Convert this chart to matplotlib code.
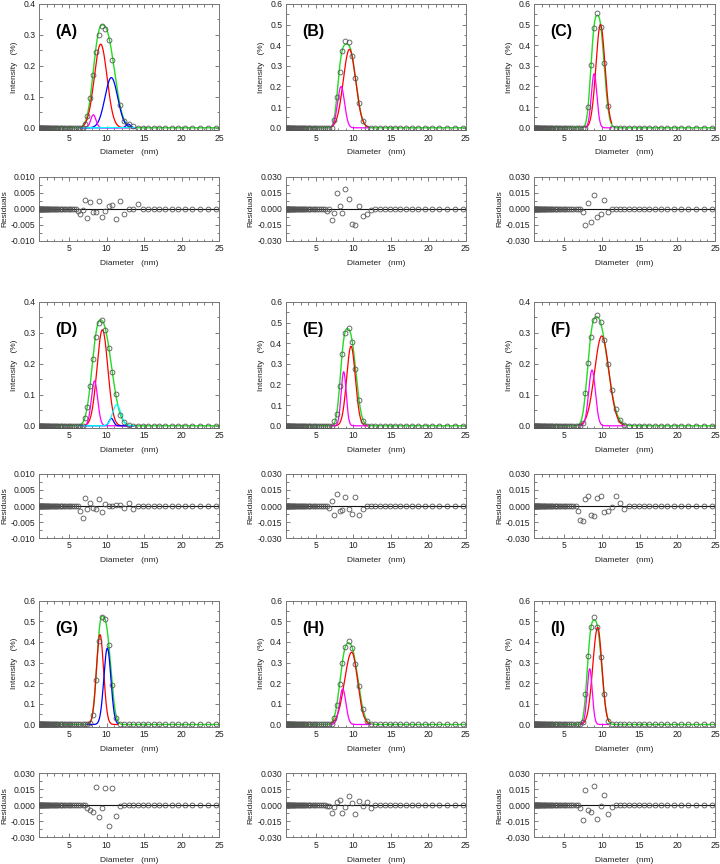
import numpy as np
import matplotlib.pyplot as plt
from matplotlib.ticker import MultipleLocator, FormatStrFormatter

plt.rcParams['font.family'] = ['Liberation Sans', 'DejaVu Sans']

# size bins (nm)
diameter = [1.035, 1.083, 1.134, 1.188, 1.243, 1.302, 1.363, 1.427, 1.494, 1.565,
            1.638, 1.715, 1.796, 1.880, 1.969, 2.061, 2.158, 2.260, 2.366, 2.477,
            2.594, 2.716, 2.843, 2.977, 3.117, 3.263, 3.417, 3.577, 3.746, 3.922,
            4.106, 4.299, 4.501, 4.713, 4.934, 5.166, 5.409, 5.663, 5.929, 6.208,
            6.500, 6.805, 7.125, 7.460, 7.811, 8.178, 8.562, 8.965, 9.386, 9.827,
            10.289, 10.773, 11.279, 11.810, 12.365, 12.946, 13.555, 14.192, 14.859, 15.558,
            16.289, 17.055, 17.856, 18.696, 19.574, 20.494, 21.458, 22.467, 23.523, 24.629]

# measured intensity: first bin index + values (zero elsewhere)
int_a0, int_a = 42, [0.013, 0.037, 0.095, 0.171, 0.244, 0.30, 0.328, 0.32, 0.283, 0.22, np.nan, 0.072, 0.023, 0.011, 0.005]
int_b0, int_b = 43, [0.036, 0.15, 0.27, 0.37, 0.42, 0.414, 0.348, 0.24, 0.12, 0.031]
int_c0, int_c = 45, [0.102, 0.305, 0.485, 0.554, 0.487, 0.312, 0.105]
int_d0, int_d = 42, [0.024, 0.06, 0.13, 0.216, 0.287, 0.332, 0.34, 0.31, 0.25, 0.174, 0.103, 0.034, 0.013, 0.002]
int_e0, int_e = 43, [0.025, 0.058, 0.193, 0.346, 0.45, 0.473, 0.407, 0.277, 0.127, 0.022]
int_f0, int_f = 43, [0.01, 0.106, 0.202, 0.286, 0.341, 0.358, 0.334, 0.277, 0.199, 0.116, 0.055, 0.019, 0.002]
int_g0, int_g = 44, [0.005, 0.048, 0.214, 0.405, 0.52, 0.51, 0.386, 0.19, 0.03]
int_h0, int_h = 43, [0.031, 0.094, 0.195, 0.298, 0.377, 0.402, 0.372, 0.294, 0.184, 0.075, 0.019, 0.003]
int_i0, int_i = 43, [0.012, 0.148, 0.33, 0.471, 0.52, 0.471, 0.325, 0.148, 0.016]

# residuals: first bin index + values
res_a0, res_a = 39, [-0.0007, -0.0018, -0.0004, 0.0027, -0.0028, 0.002, -0.0011, -0.0009, 0.0025, -0.0025,
                     -0.0007, 0.0008, 0.0011, -0.0033, 0.0025, -0.0018, 0, 0, 0.0015]
res_b0, res_b = 40, [-0.002, 0, -0.0103, -0.0044, 0.0144, 0.0028, -0.0038, 0.018, 0.0088, -0.0144,
                     -0.015, 0.0025, -0.0069, -0.0053, -0.001]
res_c0, res_c = 43, [-0.003, -0.015, 0.005, -0.012, 0.013, -0.008, -0.005, 0.008, -0.003]
res_d0, res_d = 40, [-0.0015, -0.0037, 0.0024, -0.0009, 0.0008, -0.0006, -0.001, 0.0022, -0.0018, 0.0005,
                     0, 0, 0.0002, 0.0002, -0.0006, 0.0008, -0.001]
res_e0, res_e = 41, [-0.002, 0.005, -0.008, 0.011, -0.005, -0.004, 0.008, -0.003, -0.0075, 0.008, -0.008, -0.003]
res_f0, res_f = 41, [-0.0044, -0.0128, -0.014, 0.0066, 0.0097, -0.008, -0.009, 0.0072, 0.0097, -0.0053,
                     -0.005, -0.0013, 0.0097, 0.0025, -0.003]
res_g0, res_g = 43, [-0.0025, -0.0047, -0.0063, 0.017, -0.011, -0.0028, 0.0164, -0.0192, 0.0158, -0.0104, -0.0003]
res_h0, res_h = 40, [-0.0003, -0.001, -0.0072, -0.0016, 0.003, 0.0053, -0.0069, -0.0019, 0.0091, 0.0022,
                     -0.0079, 0.0041, -0.0003, 0.0035, -0.003, 0]
res_i0, res_i = 41, [0, -0.0025, -0.0135, 0.0141, -0.0047, -0.0066, 0.0179, -0.0126, -0.0009, 0.0094, -0.0079, -0.0019]

# total fit: amp, centre, width left, width right, power left, power right
fit_a = (0.332, 9.45, 1.134, 1.509, 2.5, 2.5)
fit_b = (0.405, 9.2, 1.142, 1.084, 3.5, 2.4)
fit_c = (0.545, 9.42, 0.816, 0.831, 2.8, 2.4)
fit_d = (0.342, 9.2, 1.056, 1.377, 2.4, 2.3)
fit_e = (0.47, 9.25, 0.871, 1.034, 2.8, 2.5)
fit_f = (0.352, 9.35, 1.15, 1.332, 3.0, 2.15)
fit_g = (0.525, 9.45, 0.705, 1.02, 2.5, 2.75)
fit_h = (0.395, 9.4, 1.071, 1.148, 2.65, 2.4)
fit_i = (0.505, 9.0, 0.865, 0.913, 3.0, 2.6)

# component peaks: colour, amp, centre, sigma left, sigma right
peaks_a = [('#ff0000', 0.27, 9.22, 0.85, 0.85), ('#0000ff', 0.162, 10.64, 0.85, 0.85),
           ('#0000ff', 0.012, 12.9, 0.3, 0.3), ('#ff00ff', 0.042, 8.24, 0.35, 0.35),
           ('#00ffff', 0.001, 10.0, 2.0, 2.0)]
peaks_b = [('#ff0000', 0.38, 9.5, 0.82, 0.82), ('#ff00ff', 0.2, 8.38, 0.47, 0.47)]
peaks_c = [('#ff0000', 0.5, 9.81, 0.6, 0.6), ('#ff00ff', 0.262, 8.97, 0.37, 0.37)]
peaks_d = [('#ff0000', 0.31, 9.45, 0.72, 0.72), ('#ff00ff', 0.145, 8.4, 0.42, 0.42),
           ('#0000ff', 0.024, 10.64, 0.3, 0.3), ('#00ffff', 0.068, 11.35, 0.55, 0.55)]
peaks_e = [('#ff0000', 0.385, 9.71, 0.58, 0.58), ('#ff00ff', 0.262, 8.73, 0.34, 0.34)]
peaks_f = [('#ff0000', 0.29, 9.98, 0.95, 0.95), ('#ff00ff', 0.18, 8.69, 0.45, 0.45)]
peaks_g = [('#ff0000', 0.435, 9.13, 0.48, 0.48), ('#0000ff', 0.37, 10.11, 0.47, 0.47)]
peaks_h = [('#ff0000', 0.35, 9.8, 0.95, 0.78), ('#ff00ff', 0.172, 8.6, 0.43, 0.43)]
peaks_i = [('#ff0000', 0.47, 9.44, 0.65, 0.56), ('#ff00ff', 0.27, 8.38, 0.34, 0.34)]

# x range over which components were drawn
span_a, span_b, span_c = (6.5, 13.8), (7.1, 12.0), (7.8, 11.3)
span_d, span_e, span_f = (6.5, 13.6), (7.1, 11.9), (7.0, 13.0)
span_g, span_h, span_i = (7.4, 11.5), (7.1, 12.3), (7.2, 10.9)

labels = ['(A)', '(B)', '(C)', '(D)', '(E)', '(F)', '(G)', '(H)', '(I)']
ymax = [0.4, 0.6, 0.6, 0.4, 0.6, 0.4, 0.6, 0.6, 0.6]
rmax = [0.010, 0.030, 0.030, 0.010, 0.030, 0.030, 0.030, 0.030, 0.030]

panels = [(int_a0, int_a, res_a0, res_a, fit_a, peaks_a, span_a),
          (int_b0, int_b, res_b0, res_b, fit_b, peaks_b, span_b),
          (int_c0, int_c, res_c0, res_c, fit_c, peaks_c, span_c),
          (int_d0, int_d, res_d0, res_d, fit_d, peaks_d, span_d),
          (int_e0, int_e, res_e0, res_e, fit_e, peaks_e, span_e),
          (int_f0, int_f, res_f0, res_f, fit_f, peaks_f, span_f),
          (int_g0, int_g, res_g0, res_g, fit_g, peaks_g, span_g),
          (int_h0, int_h, res_h0, res_h, fit_h, peaks_h, span_h),
          (int_i0, int_i, res_i0, res_i, fit_i, peaks_i, span_i)]


def shape(x, amp, c, sl, sr, pl=2.0, pr=2.0):
    d = x - c
    s = np.where(d < 0, sl, sr)
    p = np.where(d < 0, pl, pr)
    return amp * np.exp(-0.5 * np.abs(d / s) ** p)


def full(start, vals):
    y = np.zeros(len(diameter))
    y[start:start + len(vals)] = vals
    return y


def style(ax, ymajor, fmt):
    ax.set_xlim(1, 25)
    ax.xaxis.set_major_locator(MultipleLocator(5))
    ax.xaxis.set_minor_locator(MultipleLocator(1))
    ax.yaxis.set_major_locator(MultipleLocator(ymajor))
    ax.yaxis.set_minor_locator(MultipleLocator(ymajor / 2))
    ax.yaxis.set_major_formatter(FormatStrFormatter(fmt))
    ax.tick_params(which='both', direction='in', top=True, right=True,
                   width=0.6, color='#666666', labelsize=6.2, labelcolor='#222222', pad=2.5)
    ax.tick_params(which='major', length=3)
    ax.tick_params(which='minor', length=1.8)
    for sp in ax.spines.values():
        sp.set_color('#777777')
        sp.set_linewidth(0.7)
    ax.set_xlabel('Diameter   (nm)', fontsize=6, color='#222222', labelpad=5)


fig = plt.figure(figsize=(7.2, 8.64), dpi=100)
col_left = [0.0542, 0.3968, 0.7417]
col_w = [0.25, 0.25, 0.2514]
main_bot = [0.8495, 0.5046, 0.1589]
res_bot = [0.7214, 0.3773, 0.0309]

x = np.array(diameter)
xf = np.linspace(1, 25, 1200)

for n, (i0, iv, r0, rv, fit, peaks, span) in enumerate(panels):
    row, col = n // 3, n % 3
    ax = fig.add_axes([col_left[col], main_bot[row], col_w[col], 0.146])
    ax.plot(xf, shape(xf, *fit), color='#22dd22', lw=1.0, zorder=2)
    xs = np.linspace(span[0], span[1], 400)
    for c, a, m, sl, sr in peaks:
        ax.plot(xs, shape(xs, a, m, sl, sr), color=c, lw=0.9, zorder=3)
    ax.plot(x, full(i0, iv), 'o', ms=3.5, mfc='none', mec='#555555', mew=0.6, zorder=4)
    ax.set_ylim(-ymax[n] * 0.018, ymax[n])
    style(ax, 0.1, '%.1f')
    ax.set_ylabel('Intensity   (%)', fontsize=6, color='#222222', labelpad=4)
    ax.text(0.09, 0.78, labels[n], transform=ax.transAxes, fontsize=11.5,
            fontweight='bold', ha='left', va='center')

    axr = fig.add_axes([col_left[col], res_bot[row], col_w[col], 0.0741])
    axr.axhline(0, color='#111111', lw=0.8, zorder=2)
    axr.plot(x, full(r0, rv), 'o', ms=3.5, mfc='none', mec='#555555', mew=0.6, zorder=4)
    axr.set_ylim(-rmax[n], rmax[n])
    style(axr, rmax[n] / 2, '%.3f')
    axr.set_ylabel('Residuals', fontsize=6, color='#222222', labelpad=2)

fig.savefig('out.png', dpi=100)
